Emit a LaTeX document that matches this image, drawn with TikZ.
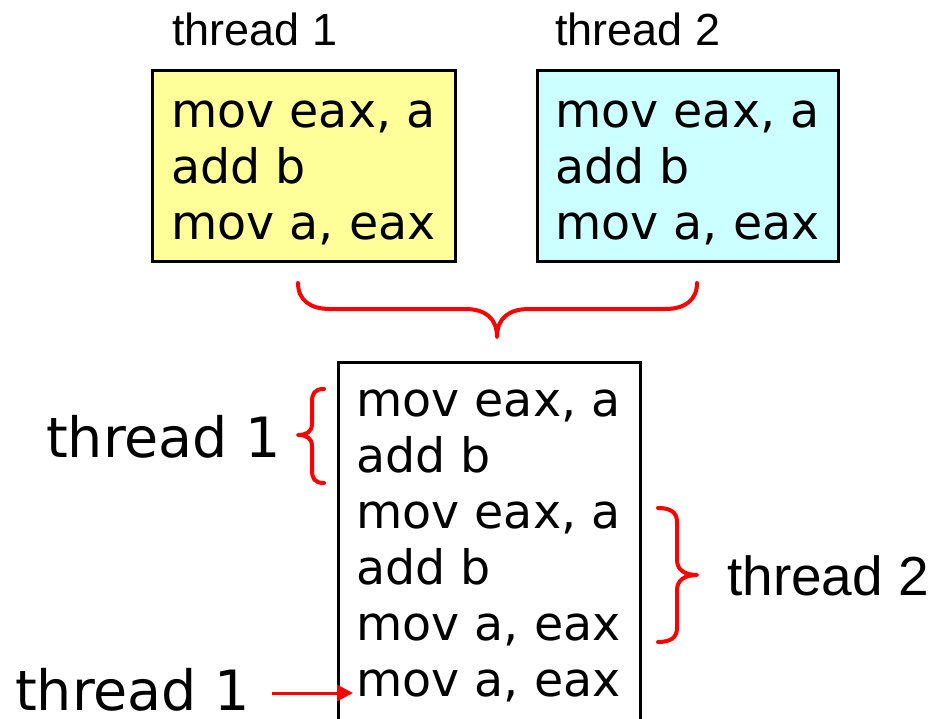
\documentclass[tikz,border=0pt]{standalone}
\usepackage{fontspec}
\setmainfont{DejaVu Sans}
\newfontfamily\arialfont{Liberation Sans}
\usetikzlibrary{arrows.meta}
\definecolor{codeyellow}{HTML}{FFFF99}
\definecolor{codecyan}{HTML}{CCFFFF}
\definecolor{bracered}{HTML}{FF0000}
\begin{document}
\begin{tikzpicture}[x=1pt,y=-1pt,
  codebox/.style={draw=black,line width=3pt,inner sep=0pt},
  codeline/.style={anchor=base west,inner sep=0pt,font=\fontsize{47.5}{57}\selectfont},
  smalllabel/.style={anchor=base west,inner sep=0pt,font=\arialfont\fontsize{45}{52}\selectfont},
  biglabel/.style={anchor=base west,inner sep=0pt,font=\fontsize{55.5}{64}\selectfont},
  arialbig/.style={anchor=base west,inner sep=0pt,font=\arialfont\fontsize{55}{64}\selectfont},
  brace/.style={draw=bracered,line width=4pt,line cap=round,line join=round},
  redarrow/.style={draw=bracered,line width=3pt,-{Triangle[length=16pt,width=16pt]}}]
\useasboundingbox (0,0) rectangle (934,718);

% thread 1 and thread 2 code boxes
\node[smalllabel] (t1) at (172,45) {thread 1};
\node[smalllabel] (t2) at (555,45) {thread 2};
\node[codebox,fill=codeyellow,minimum width=303pt,minimum height=191pt] (b1) at (303.5,165.5) {};
\node[codebox,fill=codecyan,minimum width=301pt,minimum height=191pt] (b2) at (687.5,165.5) {};
\foreach \x/\n in {171/a,555/b}{
  \node[codeline] (\n1) at (\x,127) {mov eax, a};
  \node[codeline] (\n2) at (\x,183) {add b};
  \node[codeline] (\n3) at (\x,239) {mov a, eax};
}

% brace joining both threads
\draw[brace] (298,283) .. controls (298,300) and (310,309) .. (330,309)
  -- (465,309) .. controls (485,309) and (497,318) .. (497,337)
  .. controls (497,318) and (509,309) .. (529,309)
  -- (665,309) .. controls (685,309) and (697,300) .. (697,283);

% interleaved sequence (box open at the bottom)
\draw[line width=3pt] (338,720) -- (338,362) -- (640,362) -- (640,720);
\node[codeline] (l1) at (356,416) {mov eax, a};
\node[codeline] (l2) at (356,472) {add b};
\node[codeline] (l3) at (356,528) {mov eax, a};
\node[codeline] (l4) at (356,584) {add b};
\node[codeline] (l5) at (356,640) {mov a, eax};
\node[codeline] (l6) at (356,696) {mov a, eax};

% left brace: thread 1
\draw[brace] (324,389) .. controls (314,389) and (312,394) .. (312,402)
  -- (312,424) .. controls (312,432) and (306,435) .. (298,435)
  .. controls (306,435) and (312,438) .. (312,446)
  -- (312,470) .. controls (312,478) and (314,483) .. (324,483);
\node[biglabel] (th1) at (46,457) {thread 1};

% right brace: thread 2
\draw[brace] (658,508) .. controls (670,508) and (677,512) .. (677,522)
  -- (677,560) .. controls (677,570) and (685,575) .. (697,575)
  .. controls (685,575) and (677,580) .. (677,590)
  -- (677,628) .. controls (677,638) and (670,642) .. (658,642);
\node[arialbig] (th2) at (727,595) {thread 2};

% arrow to the final store of thread 1
\node[biglabel] (th1b) at (15,710) {thread 1};
\coordinate (as) at (272,693);
\coordinate (ae) at (353,693);
\draw[redarrow] (as) -- (ae);
\end{tikzpicture}
\end{document}
